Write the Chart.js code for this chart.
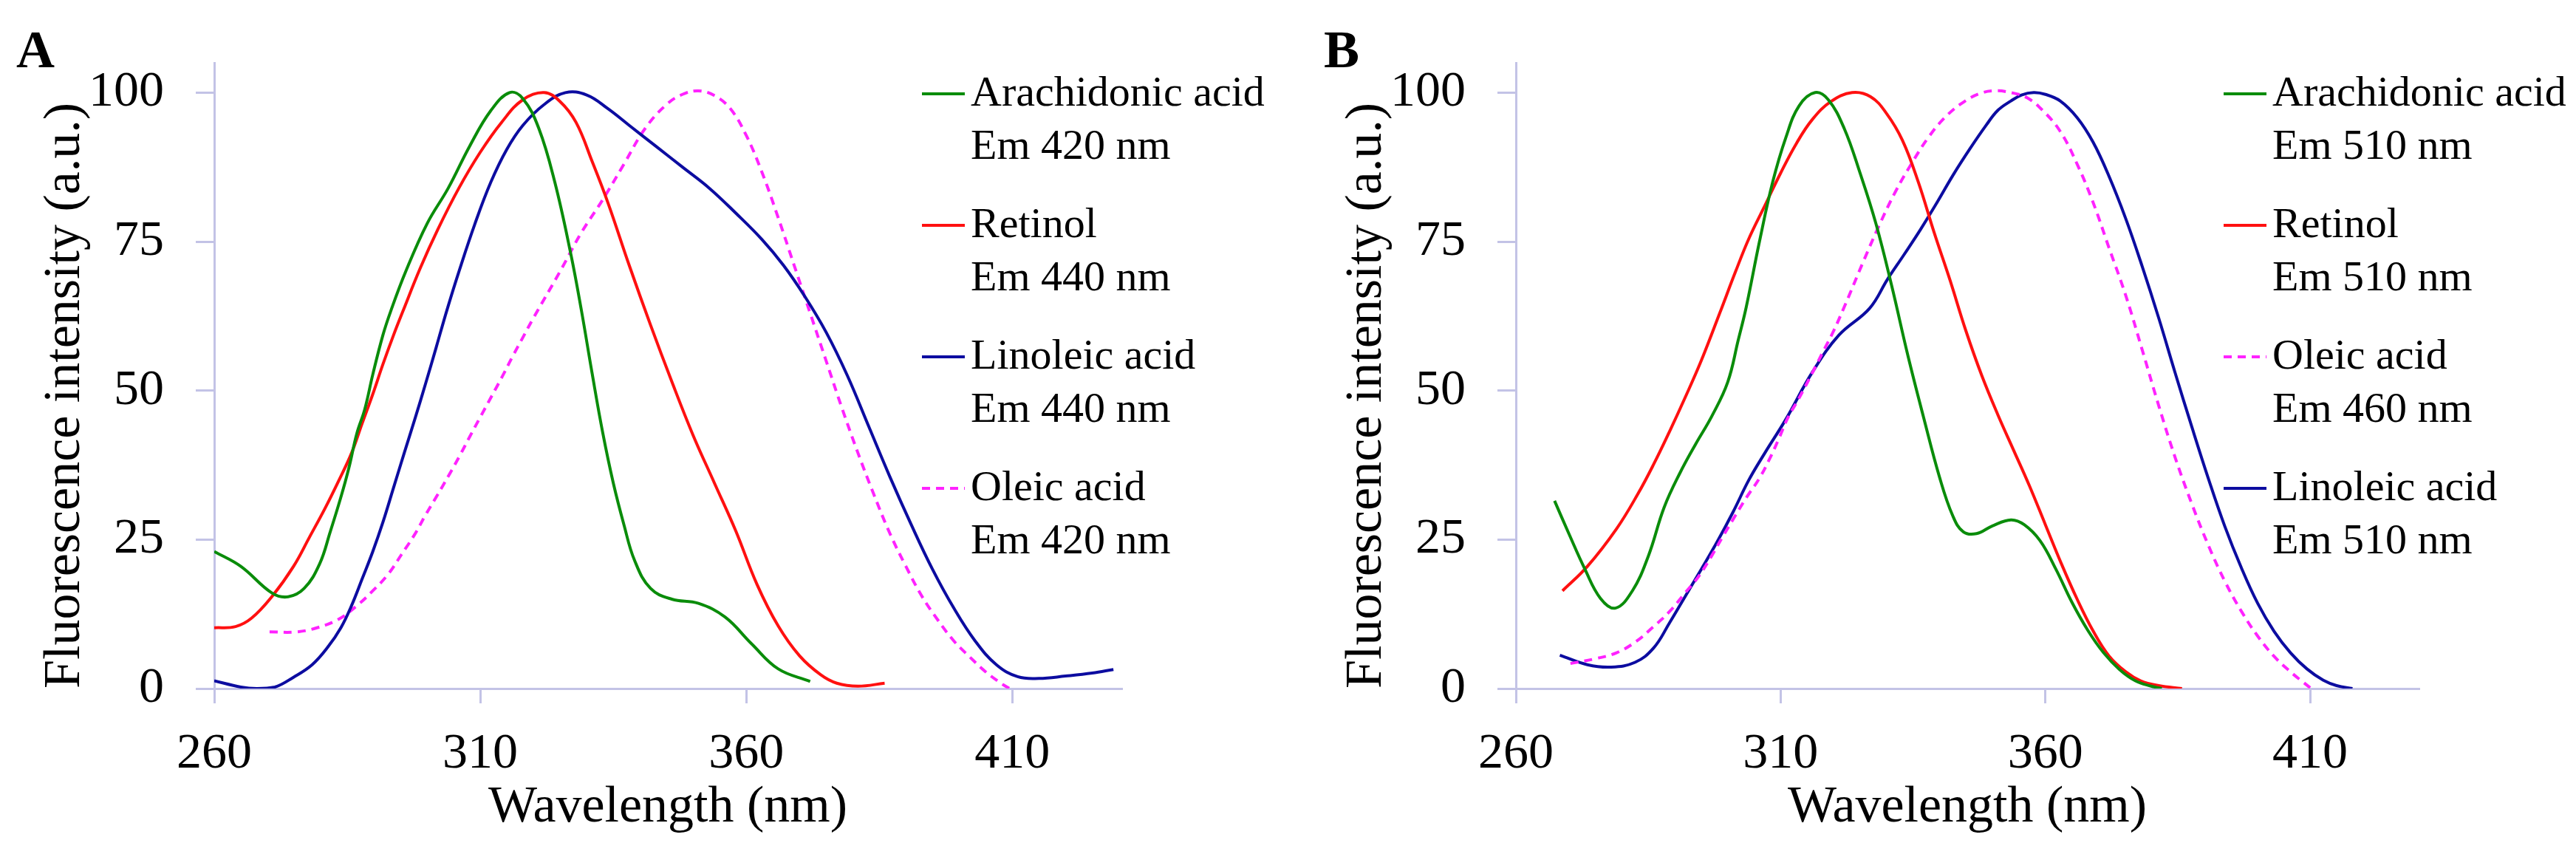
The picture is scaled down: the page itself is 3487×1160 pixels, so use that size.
<!DOCTYPE html>
<html lang="en">
<head>
  <meta charset="UTF-8">
  <title>Fluorescence excitation spectra</title>
  <script src="https://cdn.jsdelivr.net/npm/chart.js"></script>
  <style>
    body { margin: 0; background: #fff; width: 3487px; height: 1160px; overflow: hidden; }
    .panel { position: absolute; top: 0; height: 1160px; }
    .plot { position: absolute; left: 0; top: 0; width: 100%; height: 100%; }
    .tag {
      position: absolute; top: 31px;
      font: bold 72px/72px 'Liberation Serif', serif; color: #000;
    }
    .legend { position: absolute; left: 1248px; top: 88px; }
    .legend-item { position: relative; height: 178px; }
    .legend-line { position: absolute; left: 0; top: 37px; width: 58px; height: 4px; }
    .legend-text {
      position: absolute; left: 66px; top: 0; white-space: nowrap;
      font: 58px/72px 'Liberation Serif', serif; color: #000;
    }
  </style>
</head>
<body>
  <div class="panel" style="left:0; width:1762px;">
    <div class="plot"><canvas id="chartA"></canvas></div>
    <div class="tag" style="left:22px;">A</div>
    <div class="legend" id="legendA"></div>
  </div>
  <div class="panel" style="left:1762px; width:1725px;">
    <div class="plot"><canvas id="chartB"></canvas></div>
    <div class="tag" style="left:30px;">B</div>
    <div class="legend" id="legendB"></div>
  </div>

  <script>
    // Axis ticks (both panels)
    var xTicks = [260, 310, 360, 410];
    var yTicks = [0, 25, 50, 75, 100];

    // Panel A - Arachidonic acid, Em 420 nm
    var araAx = [260, 265, 270.9, 273.9, 276.9, 279.8, 281.8, 283.8, 285.3, 286.8, 288.3, 289.8, 291.7, 293.2, 296, 300, 304, 308, 312, 315.5, 318, 321, 324, 327, 329, 331, 333, 335, 337, 339, 342, 346, 351, 356, 361, 366, 372];
    var araAy = [23, 20.5, 16, 15.4, 16.8, 20.9, 26.3, 32.1, 37, 42.8, 46.9, 52.7, 59.3, 63.4, 70, 78, 84, 91, 97, 100, 99, 94, 85, 73, 63.5, 53, 43, 34.5, 27.5, 21.5, 16.8, 15, 14.3, 12, 7.5, 3.3, 1.2];
    // Panel A - Retinol, Em 440 nm
    var retAx = [260, 264, 267, 270.9, 274.9, 277.9, 280.8, 283.3, 285.8, 287.8, 289.8, 291.7, 293.7, 295.5, 298.7, 302, 306, 310, 314, 318, 322, 325, 328, 331, 334, 338, 342, 346, 350, 354, 358, 362, 366, 370, 374, 377, 381, 386];
    var retAy = [10.2, 10.4, 11.8, 15.5, 20.5, 25.4, 30.2, 34.7, 39.5, 44.5, 49.4, 54.4, 59.3, 63.4, 70.5, 77, 84, 90, 95, 98.8, 100, 98.5, 95, 88.5, 81.5, 71, 61, 51.5, 42.5, 34.5, 26.5, 17.5, 10.5, 5.5, 2.3, 0.9, 0.4, 0.9];
    // Panel A - Linoleic acid, Em 440 nm
    var linAx = [260, 265, 268, 271.4, 274.9, 278.4, 281.3, 283.8, 285.8, 287.8, 289.8, 291.7, 293.7, 295.7, 297.7, 299.7, 301.7, 303.7, 306, 309, 312, 315, 318, 322, 326, 330, 334, 338, 343, 348, 353, 358, 363, 367, 371, 375, 379, 383, 387, 391, 395, 399, 403, 407, 411, 415, 420, 425, 429];
    var linAy = [1.3, 0.25, 0, 0.25, 1.9, 4, 6.9, 10.2, 13.9, 18.4, 23, 27.9, 33.7, 39.5, 45.2, 51.1, 57.2, 63.4, 70, 78, 85, 90.5, 94.5, 98, 100, 99.6, 97.3, 94.5, 91, 87.5, 84, 79.8, 75.3, 71, 65.8, 59.8, 52.5, 44, 35.5, 27.5, 20, 13.5, 8, 4, 2, 1.7, 2.1, 2.6, 3.2];
    // Panel A - Oleic acid, Em 420 nm
    var oleAx = [270.4, 275.4, 279.3, 283.3, 286.8, 289.8, 292.7, 295.2, 297.7, 299.7, 301.7, 304.1, 306.1, 308.1, 310.1, 312.1, 314.1, 316, 318, 320, 325, 329, 333, 337, 341, 345, 348, 351, 354, 357, 360, 363, 366, 369, 372, 375, 378, 381, 384, 387, 390, 393, 396, 399, 402, 405, 408, 409.5];
    var oleAy = [9.5, 9.5, 10.2, 11.6, 13.9, 16.4, 19.2, 22.5, 25.9, 29.1, 32.1, 35.8, 39, 42.4, 45.7, 49, 52.3, 55.6, 58.9, 62.2, 70, 76.5, 82, 88, 94, 98, 99.7, 100.3, 99.5, 97.3, 92.8, 86.5, 79, 71, 63, 55, 47, 39.5, 32.5, 26, 20.5, 15.5, 11.5, 8, 5.3, 2.8, 0.8, 0];

    // Panel B - Arachidonic acid, Em 510 nm
    var araBx = [267.3, 270, 273, 276, 278.8, 282, 285, 288, 291, 294, 297, 300, 302, 303.5, 306, 308.5, 311, 313.5, 316.5, 319, 322, 325, 328, 331, 334, 337, 340, 342.5, 344.5, 347, 350, 353.5, 356, 359, 362, 365, 368, 371, 374, 377, 380, 382];
    var araBy = [31.5, 26, 20.1, 15.1, 13.5, 16.4, 22.2, 30.4, 36.2, 41.1, 45.7, 51.4, 58.5, 64, 75, 85, 92.5, 97.8, 100, 98.8, 94, 86.5, 78, 67.5, 56, 45.5, 35.5, 29, 26.3, 26, 27.3, 28.3, 27.5, 24.8, 20, 14.5, 9.8, 6, 3.2, 1.3, 0.4, 0];
    // Panel B - Retinol, Em 510 nm
    var retBx = [268.8, 273.5, 279, 283, 286, 289, 292, 295, 298.5, 301.5, 304, 307, 310, 313, 316, 319.5, 323.5, 327, 330, 333, 336, 339, 342, 345, 348, 351, 354, 357, 360, 363, 366, 369, 372, 375.2, 378, 381.4, 385.8];
    var retBy = [16.4, 20.5, 26.8, 32.6, 37.6, 43.1, 48.9, 55, 63, 70, 75.5, 81, 86.5, 91.5, 95.5, 98.5, 100, 99.3, 96.5, 92, 85, 76.5, 68.5, 60, 52.5, 46, 40, 34, 27.5, 21, 15, 9.7, 5.5, 2.8, 1.3, 0.5, 0];
    // Panel B - Oleic acid, Em 460 nm
    var oleBx = [270.3, 275, 279, 282.7, 286, 289, 292, 294.5, 297, 299, 301.5, 303.5, 306, 308, 309.7, 311.4, 313.4, 316, 318, 320, 322, 325.5, 328.5, 331.7, 335, 338, 341, 344.2, 347.5, 350.4, 353.5, 356.6, 359.5, 362.8, 366, 369, 372, 375.2, 378.3, 381.4, 384.5, 387.7, 390.8, 393.9, 397, 400.1, 403.2, 406.3, 408.5, 410.2];
    var oleBy = [4.2, 5, 6, 7.9, 10.4, 12.9, 16.1, 18.8, 22.3, 25.4, 29.1, 32, 35.3, 38.7, 42, 45.5, 48.6, 53, 56.5, 60, 64, 71.4, 77.5, 83.4, 88.5, 92.6, 95.8, 98.2, 99.8, 100.3, 100, 99.1, 97, 93.5, 88, 81.6, 74, 65.9, 56.8, 47.5, 38.8, 30.9, 24, 18, 13, 8.8, 5.4, 2.8, 1.2, 0];
    // Panel B - Linoleic acid, Em 510 nm
    var linBx = [268.3, 273.5, 278, 282.5, 286, 289, 292, 295, 298, 301, 304, 307, 311, 316, 321, 326.8, 330.2, 333.3, 336.4, 339.5, 342.6, 345.7, 348.8, 351, 353.5, 355.5, 357.8, 360, 362.8, 366, 369, 372, 375.2, 378.3, 381.4, 384.5, 387.7, 390.8, 393.9, 397, 400.1, 403.2, 406.3, 409.4, 412.5, 415, 418];
    var linBy = [5.6, 4, 3.6, 4.4, 6.8, 11, 15.5, 20, 24.6, 29.6, 35, 39.5, 45.2, 53.1, 59.3, 63.8, 68.7, 72.8, 77, 81.5, 86.2, 90.5, 94.5, 97, 98.6, 99.6, 100, 99.7, 98.6, 95.8, 91.7, 86, 78.8, 70.8, 62.2, 53, 43.8, 35.2, 27.2, 20.3, 14.3, 9.6, 6, 3.3, 1.4, 0.5, 0];

    var GREEN = '#0a8c0a';
    var RED = '#ff1010';
    var BLUE = '#0c0ca0';
    var MAGENTA = '#ff22ff';
    var AXIS = '#c3c3e6';
    var FONT = "'Liberation Serif', 'Times New Roman', serif";

    function toPoints(xs, ys) {
      return xs.map(function(x, i) { return { x: x, y: ys[i] }; });
    }

    function series(label, em, xs, ys, color, dashed) {
      return {
        label: label,
        em: em,
        data: toPoints(xs, ys),
        borderColor: color,
        backgroundColor: color,
        borderWidth: 4,
        borderDash: dashed ? [11, 8] : [],
        pointRadius: 0,
        fill: false,
        tension: 0.4
      };
    }

    function makeChart(canvasId, legendId, datasets, padRight) {
      var chart = new Chart(document.getElementById(canvasId), {
        type: 'line',
        data: { datasets: datasets },
        options: {
          responsive: true,
          maintainAspectRatio: false,
          animation: false,
          layout: { padding: { top: 85, right: padRight, bottom: 0, left: 0 } },
          plugins: { legend: { display: false }, tooltip: { enabled: false } },
          scales: {
            x: {
              type: 'linear',
              min: 260,
              max: 430.5,
              afterBuildTicks: function(scale) {
                scale.ticks = xTicks.map(function(v) { return { value: v }; });
              },
              afterFit: function(scale) { scale.height = 228; },
              grid: { drawOnChartArea: false, drawTicks: true, tickLength: 20, color: AXIS, lineWidth: 3 },
              border: { display: true, color: AXIS, width: 3, dash: [4, 3] },
              ticks: { padding: 28, color: '#000', maxRotation: 0, autoSkip: false, font: { family: FONT, size: 68 } },
              title: {
                display: true,
                text: 'Wavelength (nm)',
                color: '#000',
                font: { family: FONT, size: 70 },
                padding: { top: 0, bottom: 24 }
              }
            },
            y: {
              min: 0,
              max: 105,
              afterBuildTicks: function(scale) {
                scale.ticks = yTicks.map(function(v) { return { value: v }; });
              },
              afterFit: function(scale) { scale.width = 290; },
              grid: { drawOnChartArea: false, drawTicks: true, tickLength: 25, color: AXIS, lineWidth: 3 },
              border: { display: true, color: AXIS, width: 3 },
              ticks: { padding: 43, color: '#000', font: { family: FONT, size: 68 } },
              title: {
                display: true,
                text: 'Fluorescence intensity (a.u.)',
                align: 'start',
                color: '#000',
                font: { family: FONT, size: 70 },
                padding: { top: 47, bottom: 0 }
              }
            }
          }
        }
      });

      // HTML legend inside the plot area, built from the datasets
      var box = document.getElementById(legendId);
      chart.data.datasets.forEach(function(ds) {
        var item = document.createElement('div');
        item.className = 'legend-item';
        var line = document.createElement('div');
        line.className = 'legend-line';
        if (ds.borderDash.length) {
          line.style.background = 'repeating-linear-gradient(to right, ' + ds.borderColor + ' 0 11px, transparent 11px 19px)';
        } else {
          line.style.background = ds.borderColor;
        }
        var text = document.createElement('div');
        text.className = 'legend-text';
        text.innerHTML = ds.label + '<br>' + ds.em;
        item.appendChild(line);
        item.appendChild(text);
        box.appendChild(item);
      });
      return chart;
    }

    makeChart('chartA', 'legendA', [
      series('Arachidonic acid', 'Em 420 nm', araAx, araAy, GREEN, false),
      series('Retinol', 'Em 440 nm', retAx, retAy, RED, false),
      series('Linoleic acid', 'Em 440 nm', linAx, linAy, BLUE, false),
      series('Oleic acid', 'Em 420 nm', oleAx, oleAy, MAGENTA, true)
    ], 244);

    makeChart('chartB', 'legendB', [
      series('Arachidonic acid', 'Em 510 nm', araBx, araBy, GREEN, false),
      series('Retinol', 'Em 510 nm', retBx, retBy, RED, false),
      series('Oleic acid', 'Em 460 nm', oleBx, oleBy, MAGENTA, true),
      series('Linoleic acid', 'Em 510 nm', linBx, linBy, BLUE, false)
    ], 213);
  </script>
</body>
</html>
